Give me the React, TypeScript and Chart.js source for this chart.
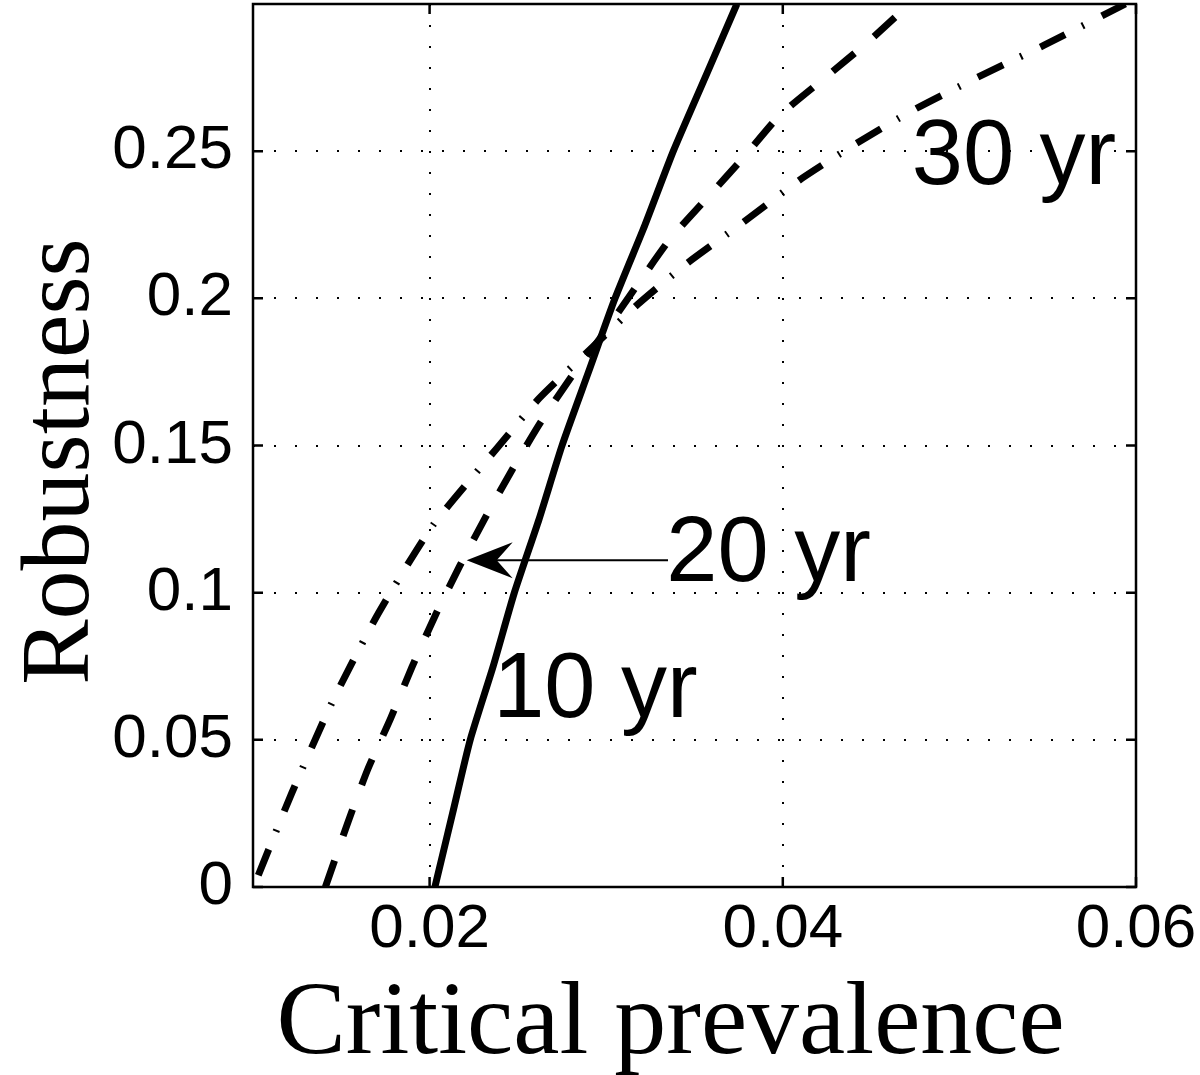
import React, { useEffect, useRef } from "react";
import { Chart, registerables } from "chart.js";

Chart.register(...registerables);

// Axis ranges and ticks
const X_MIN = 0.01;
const X_MAX = 0.06;
const Y_MIN = 0;
const Y_MAX = 0.3;
const X_TICKS = [0.02, 0.04, 0.06];
const X_TICK_LABELS = ["0.02", "0.04", "0.06"];
const Y_TICKS = [0, 0.05, 0.1, 0.15, 0.2, 0.25];
const Y_TICK_LABELS = ["0", "0.05", "0.1", "0.15", "0.2", "0.25"];
const X_TITLE = "Critical prevalence";
const Y_TITLE = "Robustness";

// 10 yr (solid)
const YR10_X = [0.0203, 0.0213, 0.0223, 0.0236, 0.0248, 0.0262, 0.0275, 0.029, 0.0305, 0.0322, 0.0338, 0.0356, 0.0374];
const YR10_Y = [0.0, 0.025, 0.05, 0.075, 0.1, 0.125, 0.15, 0.175, 0.2, 0.225, 0.25, 0.275, 0.3];

// 20 yr (dashed)
const YR20_X = [0.0141, 0.0154, 0.0165, 0.0178, 0.019, 0.0203, 0.0217, 0.0232, 0.0247, 0.0263, 0.0281, 0.0296, 0.0317, 0.0336, 0.0357, 0.0378, 0.0398, 0.0424, 0.0448, 0.047];
const YR20_Y = [0.0, 0.0224, 0.04, 0.0574, 0.0747, 0.092, 0.109, 0.126, 0.142, 0.158, 0.174, 0.186, 0.204, 0.22, 0.234, 0.248, 0.262, 0.275, 0.287, 0.299];

// 30 yr (dash-dot)
const YR30_X = [0.0103, 0.0122, 0.0145, 0.0171, 0.0202, 0.0238, 0.0262, 0.0288, 0.0318, 0.0346, 0.0378, 0.0409, 0.044, 0.0474, 0.051, 0.0548, 0.0594];
const YR30_Y = [0.004, 0.032, 0.063, 0.093, 0.123, 0.149, 0.166, 0.181, 0.198, 0.212, 0.226, 0.24, 0.252, 0.264, 0.275, 0.286, 0.3];

// Text annotations (data coordinates, left/baseline)
const NOTE_TEXT = ["10 yr", "20 yr", "30 yr"];
const NOTE_X = [0.0236, 0.0334, 0.0473];
const NOTE_Y = [0.0577, 0.104, 0.239];
// Arrow from "20 yr" label to the dashed curve
const ARROW_FROM = { x: 0.0335, y: 0.111 };
const ARROW_TO = { x: 0.0221, y: 0.111 };

const toPts = (xs: number[], ys: number[]) => xs.map((x, i) => ({ x, y: ys[i] }));

const SANS = '"Liberation Sans", Arial, Helvetica, sans-serif';
const SERIF = '"Liberation Serif", "Times New Roman", Times, serif';

const overlayPlugin = {
  id: "overlay",
  afterDraw(chart: any) {
    const { ctx, chartArea: a, scales } = chart;
    const xs = scales.x;
    const ys = scales.y;
    ctx.save();
    ctx.fillStyle = "#000";
    ctx.strokeStyle = "#000";

    // axis titles
    ctx.font = `104px ${SERIF}`;
    ctx.textAlign = "center";
    ctx.textBaseline = "alphabetic";
    ctx.fillText(X_TITLE, (a.left + a.right) / 2 - 24, a.bottom + 166);
    ctx.save();
    ctx.font = `98px ${SERIF}`;
    ctx.translate(a.left - 165, (a.top + a.bottom) / 2 + 16);
    ctx.rotate(-Math.PI / 2);
    ctx.fillText(Y_TITLE, 0, 0);
    ctx.restore();

    // annotations
    ctx.font = `92px ${SANS}`;
    ctx.textAlign = "left";
    ctx.textBaseline = "alphabetic";
    NOTE_TEXT.forEach((t, i) => {
      ctx.fillText(t, xs.getPixelForValue(NOTE_X[i]), ys.getPixelForValue(NOTE_Y[i]));
    });

    // arrow
    const fx = xs.getPixelForValue(ARROW_FROM.x);
    const fy = ys.getPixelForValue(ARROW_FROM.y);
    const tx = xs.getPixelForValue(ARROW_TO.x);
    const ty = ys.getPixelForValue(ARROW_TO.y);
    ctx.lineWidth = 2;
    ctx.beginPath();
    ctx.moveTo(fx, fy);
    ctx.lineTo(tx + 25, ty);
    ctx.stroke();
    ctx.beginPath();
    ctx.moveTo(tx, ty);
    ctx.lineTo(tx + 46, ty - 18);
    ctx.lineTo(tx + 30, ty);
    ctx.lineTo(tx + 46, ty + 18);
    ctx.closePath();
    ctx.fill();

    // box
    ctx.lineWidth = 2.5;
    ctx.strokeRect(a.left, a.top, a.right - a.left, a.bottom - a.top);

    // inward ticks on all four sides
    const TL = 10;
    ctx.beginPath();
    X_TICKS.forEach((v) => {
      const p = xs.getPixelForValue(v);
      ctx.moveTo(p, a.bottom);
      ctx.lineTo(p, a.bottom - TL);
      ctx.moveTo(p, a.top);
      ctx.lineTo(p, a.top + TL);
    });
    Y_TICKS.forEach((v) => {
      const p = ys.getPixelForValue(v);
      ctx.moveTo(a.left, p);
      ctx.lineTo(a.left + TL, p);
      ctx.moveTo(a.right, p);
      ctx.lineTo(a.right - TL, p);
    });
    ctx.stroke();
    ctx.restore();
  },
};

export default function App() {
  const ref = useRef<HTMLCanvasElement | null>(null);

  useEffect(() => {
    if (!ref.current) return;
    const chart = new Chart(ref.current, {
      type: "line",
      data: {
        datasets: [
          {
            label: "10 yr",
            data: toPts(YR10_X, YR10_Y),
            borderColor: "#000",
            borderWidth: 7,
            pointRadius: 0,
            fill: false,
            tension: 0.2,
          },
          {
            label: "20 yr",
            data: toPts(YR20_X, YR20_Y),
            borderColor: "#000",
            borderWidth: 7,
            borderDash: [28, 26],
            borderCapStyle: "butt",
            pointRadius: 0,
            fill: false,
            tension: 0.2,
          },
          {
            label: "30 yr",
            data: toPts(YR30_X, YR30_Y),
            borderColor: "#000",
            borderWidth: 7,
            borderDash: [28, 19, 2, 20],
            borderCapStyle: "butt",
            pointRadius: 0,
            fill: false,
            tension: 0.2,
          },
        ],
      },
      options: {
        responsive: false,
        animation: false,
        layout: { padding: { top: 4, right: 64, left: 0, bottom: 0 } },
        plugins: {
          legend: { display: false },
          tooltip: { enabled: false },
        },
        scales: {
          x: {
            type: "linear",
            min: X_MIN,
            max: X_MAX,
            afterBuildTicks: (s: any) => {
              s.ticks = X_TICKS.map((v) => ({ value: v }));
            },
            afterFit: (s: any) => {
              s.height = 188;
              s.paddingLeft = 0;
              s.paddingRight = 0;
            },
            grid: { color: "#000", lineWidth: 2, drawTicks: false },
            border: { display: false, dash: [2, 19] },
            ticks: {
              color: "#000",
              font: { family: SANS, size: 62 },
              padding: 6,
              maxRotation: 0,
              autoSkip: false,
              callback: (_v: any, i: number) => X_TICK_LABELS[i],
            },
            title: { display: false, text: X_TITLE },
          },
          y: {
            type: "linear",
            min: Y_MIN,
            max: Y_MAX,
            afterBuildTicks: (s: any) => {
              s.ticks = Y_TICKS.map((v) => ({ value: v }));
            },
            afterFit: (s: any) => {
              s.width = 253;
              s.paddingTop = 0;
              s.paddingBottom = 0;
            },
            grid: { color: "#000", lineWidth: 2, drawTicks: false },
            border: { display: false, dash: [2, 19] },
            ticks: {
              color: "#000",
              font: { family: SANS, size: 62 },
              padding: 20,
              autoSkip: false,
              callback: (_v: any, i: number) => Y_TICK_LABELS[i],
            },
            title: { display: false, text: Y_TITLE },
          },
        },
      },
      plugins: [overlayPlugin],
    });
    return () => chart.destroy();
  }, []);

  return (
    <div style={{ position: "absolute", left: 0, top: 0, width: 1200, height: 1075, background: "#fff" }}>
      <canvas ref={ref} width={1200} height={1075} style={{ display: "block" }} />
    </div>
  );
}
